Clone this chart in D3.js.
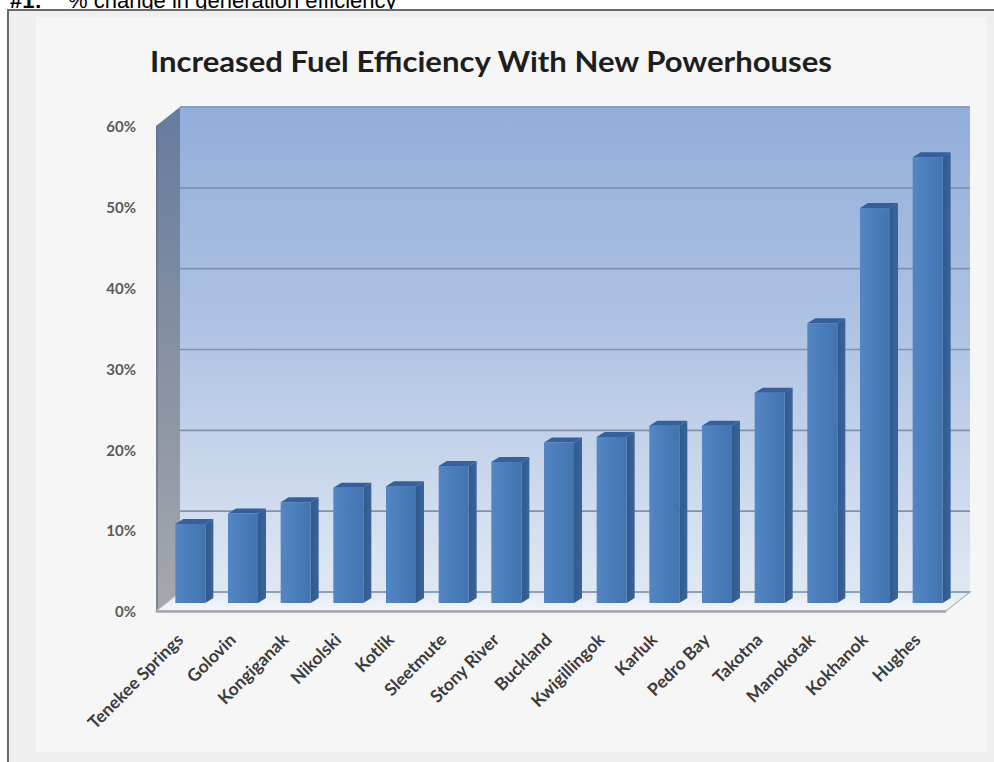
<!DOCTYPE html>
<html>
<head>
<meta charset="utf-8">
<script src="https://cdn.jsdelivr.net/npm/d3@7"></script>
<style>
  html, body { margin: 0; padding: 0; background: #ffffff; }
  svg { display: block; }
</style>
</head>
<body>
<svg id="chart" width="994" height="762"></svg>
<script>
// ---- data ----
const headerLabel = "#1:";
const headerText = "% change in generation efficiency";
const chartTitle = "Increased Fuel Efficiency With New Powerhouses";
const categories = ["Tenekee Springs", "Golovin", "Kongiganak", "Nikolski", "Kotlik",
  "Sleetmute", "Stony River", "Buckland", "Kwigillingok", "Karluk", "Pedro Bay",
  "Takotna", "Manokotak", "Kokhanok", "Hughes"];
const values = [0.098, 0.111, 0.125, 0.143, 0.145, 0.170, 0.175, 0.199, 0.206,
  0.220, 0.220, 0.261, 0.347, 0.490, 0.553];
const tickValues = [0, 0.1, 0.2, 0.3, 0.4, 0.5, 0.6];

// ---- layout ----
const svg = d3.select("#chart");
const defs = svg.append("defs");

const depthX = 24, depthY = 19;          // front -> back wall offset
const barDX = 8, barDY = 5;               // bar depth
const backLeft = 180, backRight = 970;

const yBack = d3.scaleLinear().domain([0, 0.6]).range([592, 107]);
const yFront = d3.scaleLinear().domain([0, 0.6]).range([592 + depthY, 107 + depthY]);
const yBar = d3.scaleLinear().domain([0, 0.6]).range([603, 119.4]);
const xBar = d3.scaleBand().domain(categories).range([164, 954]).paddingInner(0.43).paddingOuter(0.215);

// header text (partly covered by the frame)
svg.append("text").attr("x", 10).attr("y", 8)
  .attr("font-family", "Liberation Sans, Arial, sans-serif").attr("font-size", 22)
  .attr("font-weight", "bold").attr("fill", "#000").text(headerLabel);
svg.append("text").attr("x", 68).attr("y", 8)
  .attr("font-family", "Liberation Sans, Arial, sans-serif").attr("font-size", 22)
  .attr("fill", "#000").text(headerText);

// frame
svg.append("rect").attr("x", 8).attr("y", 10).attr("width", 1000).attr("height", 760)
  .attr("fill", "#efefef").attr("stroke", "#6a6a6a").attr("stroke-width", 2);
svg.append("rect").attr("x", 36).attr("y", 17).attr("width", 950).attr("height", 735)
  .attr("fill", "#f6f6f6");

// gradients
const gBack = defs.append("linearGradient").attr("id", "gBack").attr("x1", 0).attr("y1", 0).attr("x2", 0).attr("y2", 1);
gBack.append("stop").attr("offset", "0%").attr("stop-color", "#92aedb");
gBack.append("stop").attr("offset", "45%").attr("stop-color", "#aec2e3");
gBack.append("stop").attr("offset", "100%").attr("stop-color", "#e0e8f3");

const gSide = defs.append("linearGradient").attr("id", "gSide").attr("x1", 0).attr("y1", 0).attr("x2", 0).attr("y2", 1);
gSide.append("stop").attr("offset", "0%").attr("stop-color", "#667b9e");
gSide.append("stop").attr("offset", "55%").attr("stop-color", "#8a93a3");
gSide.append("stop").attr("offset", "100%").attr("stop-color", "#a6a8ad");

const gFloor = defs.append("linearGradient").attr("id", "gFloor").attr("x1", 0).attr("y1", 0).attr("x2", 0).attr("y2", 1);
gFloor.append("stop").attr("offset", "0%").attr("stop-color", "#e3eaf4");
gFloor.append("stop").attr("offset", "100%").attr("stop-color", "#f3f6fa");

const gBar = defs.append("linearGradient").attr("id", "gBar").attr("x1", 0).attr("y1", 0).attr("x2", 1).attr("y2", 0);
gBar.append("stop").attr("offset", "0%").attr("stop-color", "#5586c4");
gBar.append("stop").attr("offset", "35%").attr("stop-color", "#4c7fbd");
gBar.append("stop").attr("offset", "100%").attr("stop-color", "#4374b2");

const gBarSide = defs.append("linearGradient").attr("id", "gBarSide").attr("x1", 0).attr("y1", 0).attr("x2", 1).attr("y2", 0);
gBarSide.append("stop").attr("offset", "0%").attr("stop-color", "#30598c");
gBarSide.append("stop").attr("offset", "100%").attr("stop-color", "#3a659b");

// title
svg.append("text").attr("x", 491).attr("y", 72).attr("text-anchor", "middle")
  .attr("font-family", "Lato, Carlito, sans-serif").attr("font-size", 28).attr("font-weight", "bold")
  .attr("fill", "#1e1e1e").attr("textLength", 682).attr("lengthAdjust", "spacingAndGlyphs")
  .text(chartTitle);

// back wall
const y0 = yBack(0), yTop = yBack(0.6);
svg.append("rect").attr("x", backLeft).attr("y", yTop).attr("width", backRight - backLeft)
  .attr("height", y0 - yTop).attr("fill", "url(#gBack)");
svg.append("line").attr("x1", backLeft).attr("x2", backRight).attr("y1", yTop).attr("y2", yTop)
  .attr("stroke", "#a9bbd8").attr("stroke-width", 1.5);

// side wall
const sidePts = [[backLeft - depthX, yFront(0)], [backLeft - depthX, yFront(0.6)],
  [backLeft, yBack(0.6)], [backLeft, yBack(0)]];
svg.append("polygon").attr("points", sidePts.map(p => p.join(",")).join(" "))
  .attr("fill", "url(#gSide)");
svg.append("line").attr("x1", backLeft - depthX + 1).attr("x2", backLeft - depthX + 1)
  .attr("y1", yFront(0.6)).attr("y2", yFront(0)).attr("stroke", "#5f708c").attr("stroke-width", 2).attr("opacity", 0.6);

// floor
const floorPts = [[backLeft - depthX, yFront(0)], [backLeft, yBack(0)],
  [backRight, yBack(0)], [backRight - depthX, yFront(0)]];
svg.append("polygon").attr("points", floorPts.map(p => p.join(",")).join(" "))
  .attr("fill", "url(#gFloor)").attr("stroke", "#b3b6ba").attr("stroke-width", 1.2);
svg.append("line").attr("x1", backLeft - depthX).attr("x2", backRight - depthX)
  .attr("y1", yFront(0) + 0.5).attr("y2", yFront(0) + 0.5)
  .attr("stroke", "#a3a6aa").attr("stroke-width", 2.5);

// gridlines
svg.append("g").selectAll("line").data(tickValues).join("line")
  .attr("x1", backLeft).attr("x2", backRight)
  .attr("y1", d => yBack(d)).attr("y2", d => yBack(d))
  .attr("stroke", "#8092ad").attr("stroke-width", 1.6);

// y labels
svg.append("g").selectAll("text").data(tickValues).join("text")
  .attr("x", 136).attr("y", d => yFront(d) + 1).attr("dy", "0.35em")
  .attr("text-anchor", "end").attr("font-family", "Lato, sans-serif")
  .attr("font-size", 15).attr("font-weight", "bold").attr("fill", "#5a5a5a")
  .text(d => d3.format(".0%")(d));

// bars
const bars = svg.append("g").selectAll("g").data(categories).join("g");
const bw = xBar.bandwidth();
bars.append("polygon")
  .attr("points", (c, i) => {
    const x = xBar(c), yt = yBar(values[i]), yb = yBar(0);
    return [[x + bw, yt], [x + bw + barDX, yt - barDY], [x + bw + barDX, yb - barDY], [x + bw, yb]]
      .map(p => p.join(",")).join(" ");
  }).attr("fill", "url(#gBarSide)");
bars.append("rect")
  .attr("x", c => xBar(c)).attr("y", (c, i) => yBar(values[i]))
  .attr("width", bw).attr("height", (c, i) => yBar(0) - yBar(values[i]))
  .attr("fill", "url(#gBar)");
bars.append("polygon")
  .attr("points", (c, i) => {
    const x = xBar(c), yt = yBar(values[i]);
    return [[x, yt], [x + barDX, yt - barDY], [x + bw + barDX, yt - barDY], [x + bw, yt]]
      .map(p => p.join(",")).join(" ");
  }).attr("fill", "#37609a");

// x labels
svg.append("g").selectAll("text").data(categories).join("text")
  .attr("transform", c => `translate(${xBar(c) + bw / 2 - 6},641) rotate(-45)`)
  .attr("text-anchor", "end")
  .attr("font-family", "Lato, sans-serif").attr("font-size", 17.5).attr("font-weight", "bold")
  .attr("fill", "#3c3c3c")
  .text(c => c);
</script>
</body>
</html>
